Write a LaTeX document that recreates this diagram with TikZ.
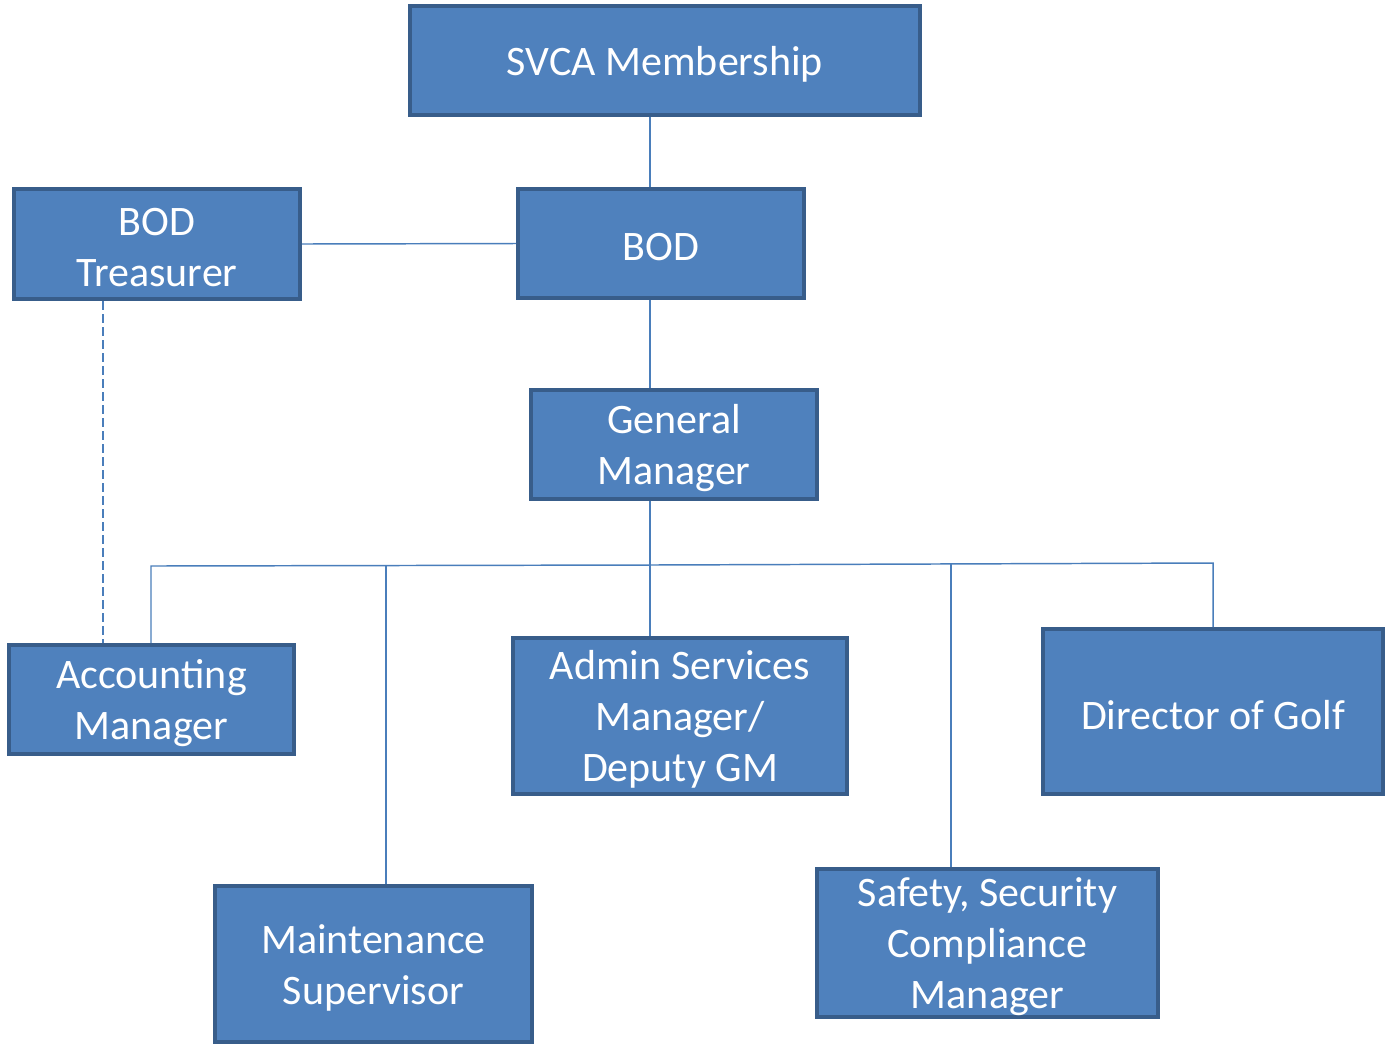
\documentclass[tikz,border=0pt]{standalone}
\usepackage{fontspec}
\setmainfont{Carlito}
\definecolor{boxfill}{HTML}{4F81BD}
\definecolor{boxline}{HTML}{385D8A}
\definecolor{conn}{HTML}{4A7EBB}
\begin{document}
\begin{tikzpicture}[x=0.75pt,y=-0.75pt,
  orgbox/.style={draw=boxline, fill=boxfill, line width=3pt, inner sep=0pt},
  boxtext/.style={text=white, align=center, inner sep=0pt,
    font=\fontsize{31.5}{38.3}\selectfont},
  link/.style={draw=conn, line width=1.1pt},
  dashlink/.style={link, dash pattern=on 6.75pt off 3pt}]
\fill[white] (0,0) rectangle (1387,1047);
\useasboundingbox (0,0) rectangle (1387,1047);
\node[orgbox, minimum width=382.5pt, minimum height=81.75pt] (svca) at (665,60.5) {};
\node[orgbox, minimum width=214.5pt, minimum height=82.5pt] (treas) at (157,244) {};
\node[orgbox, minimum width=214.5pt, minimum height=81.75pt] (bod) at (661,243.5) {};
\node[orgbox, minimum width=214.5pt, minimum height=81.75pt] (gm) at (674,444.5) {};
\node[orgbox, minimum width=213.75pt, minimum height=81.75pt] (acct) at (151.5,699.5) {};
\node[orgbox, minimum width=250.5pt, minimum height=117pt] (admin) at (680,716) {};
\node[orgbox, minimum width=255pt, minimum height=123.75pt] (golf) at (1213,711.5) {};
\node[orgbox, minimum width=237.75pt, minimum height=117pt] (maint) at (373.5,964) {};
\node[orgbox, minimum width=255.75pt, minimum height=111pt] (safety) at (987.5,943) {};
\node[boxtext] (svca-t) at ([yshift=-2.6pt]svca.center) {SVCA Membership};
\node[boxtext] (treas-t) at ([yshift=-2.6pt]treas.center) {BOD\\Treasurer};
\node[boxtext] (bod-t) at ([yshift=-2.6pt]bod.center) {BOD};
\node[boxtext] (gm-t) at ([yshift=-2.6pt]gm.center) {General\\Manager};
\node[boxtext] (acct-t) at ([yshift=-2.6pt]acct.center) {Accounting\\Manager};
\node[boxtext] (admin-t) at ([yshift=-2.6pt]admin.center) {Admin Services\\Manager/\\Deputy GM};
\node[boxtext] (golf-t) at ([yshift=-2.6pt]golf.center) {Director of Golf};
\node[boxtext] (maint-t) at ([yshift=-2.6pt]maint.center) {Maintenance\\Supervisor};
\node[boxtext] (safety-t) at ([yshift=-2.6pt]safety.center) {Safety, Security\\Compliance\\Manager};
% coordinates on the bus
\coordinate (spine) at (650,565);
\coordinate (bacct) at (151,566);
\coordinate (bmaint) at (386,565.5);
\coordinate (bsafe) at (951,563.5);
\coordinate (bgolf) at (1213,563);
\coordinate (dash) at (103,0);
\draw[link] (svca.south -| spine) -- (bod.north -| spine);
\draw[link] (treas.east) -- (bod.west);
\draw[link] (bod.south -| spine) -- (gm.north -| spine);
\draw[link] (gm.south -| spine) -- (spine);
\draw[link] (acct.north -| bacct) -- (bacct) -- (spine) -- (bgolf) -- (golf.north -| bgolf);
\draw[link] (spine) -- (admin.north -| spine);
\draw[link] (bmaint) -- (maint.north -| bmaint);
\draw[link] (bsafe) -- (safety.north -| bsafe);
\draw[dashlink] (treas.south -| dash) -- (acct.north -| dash);
\end{tikzpicture}
\end{document}
